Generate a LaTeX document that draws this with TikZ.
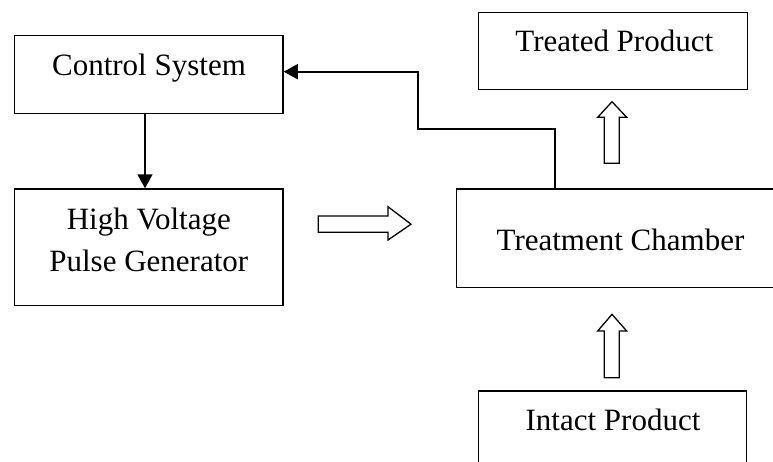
\documentclass[tikz,border=0pt]{standalone}
\usepackage{fontspec}
\setmainfont{Liberation Serif}
\usetikzlibrary{arrows.meta}
\tikzset{
  box/.style={draw, line width=1.5pt, rectangle, inner sep=0pt},
  txt/.style={inner sep=0pt, anchor=base, font=\fontsize{31}{37}\selectfont},
  conn/.style={line width=1.8pt, -{Triangle[length=14pt,width=15pt]}},
  plain/.style={line width=1.8pt},
  hollow/.style={draw, line width=1.3pt, fill=white, line join=miter}
}
\begin{document}
\begin{tikzpicture}[x=1pt,y=-1pt]
\useasboundingbox (0,0) rectangle (773,461);
\clip (0,0) rectangle (773,461);
\fill[white] (0,0) rectangle (773,461);
% boxes
\node[box, minimum width=268.3pt, minimum height=78pt] (cs) at (148.85,74.7) {};
\node[box, minimum width=268.3pt, minimum height=116.7pt] (hv) at (148.85,247.35) {};
\node[box, minimum width=269pt, minimum height=76.6pt] (tp) at (613.2,51) {};
\node[box, minimum width=327.3pt, minimum height=98.7pt] (ch) at (620.35,238.35) {};
\node[box, minimum width=268pt, minimum height=79pt] (ip) at (612.7,430.5) {};
% texts
\node[txt] (cst) at (149,75) {Control System};
\node[txt] (hvt1) at (148.8,229.3) {High Voltage};
\node[txt] (hvt2) at (148.8,271.7) {Pulse Generator};
\node[txt] (tpt) at (614.3,51.7) {Treated Product};
\node[txt] (cht) at (620.5,250.7) {Treatment Chamber};
\node[txt] (ipt) at (613,430.7) {Intact Product};
% connectors
\draw[conn] ([xshift=-3.85pt]cs.south) -- ([xshift=-3.85pt]hv.north);
\coordinate (j1) at (555,129);
\coordinate (j2) at (418.3,71.7);
\draw[conn] (ch.north -| j1) -- (j1) -| (j2) -- (cs.east |- j2);
% hollow arrows
\draw[hollow] (318.3,216) -- (388,216) -- (388,206.7) -- (411,224.2) -- (388,240) -- (388,232.3) -- (318.3,232.3) -- cycle;
\draw[hollow] (604.3,163.3) -- (604.3,117.3) -- (597.7,117.3) -- (612,101.7) -- (626.7,117.3) -- (619.3,117.3) -- (619.3,163.3) -- cycle;
\draw[hollow] (604.3,377.7) -- (604.3,331) -- (597.7,331) -- (612,314.3) -- (626.7,331) -- (619.3,331) -- (619.3,377.7) -- cycle;
\end{tikzpicture}
\end{document}
